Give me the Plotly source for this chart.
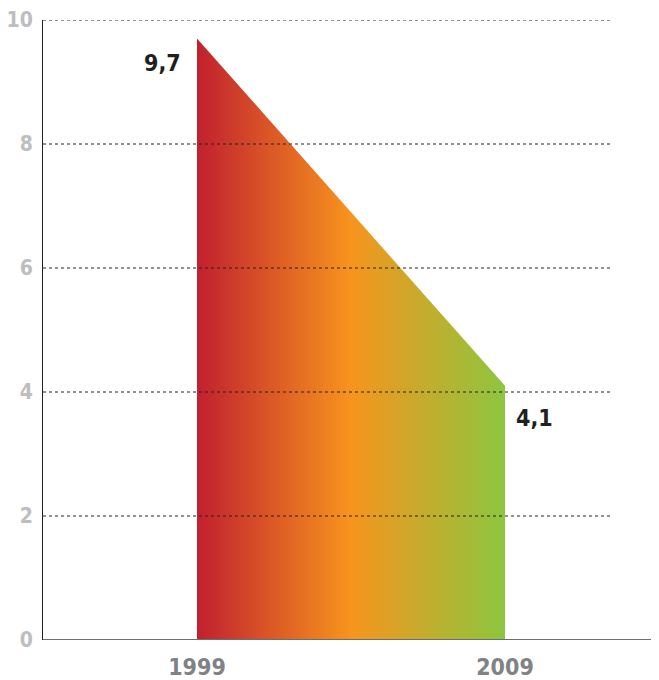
import plotly.graph_objects as go

years = [1999, 2009]
values = [9.7, 4.1]
labels = ["9,7", "4,1"]
y_ticks = [0, 2, 4, 6, 8, 10]
x_ticks = [1999, 2009]

FONT = "DejaVu Sans Condensed, Liberation Sans Narrow, sans-serif"

fig = go.Figure()
fig.add_trace(go.Scatter(
    x=years, y=values, mode="lines", line=dict(width=0, color="rgba(0,0,0,0)"),
    fill="tozeroy",
    fillgradient=dict(type="horizontal",
                      colorscale=[[0, "#C1202F"], [0.5, "#F7941D"], [1, "#8DC63F"]]),
    hoverinfo="skip", showlegend=False,
))

# gridlines (dotted) ending before right edge
for t in y_ticks[1:]:
    fig.add_shape(type="line", xref="x", yref="y", x0=1994, x1=2012.45, y0=t, y1=t,
                  line=dict(color="#222222", width=1, dash="dot"), layer="above")

# x axis baseline extending full width
fig.add_shape(type="line", xref="paper", yref="y", x0=0, x1=1, y0=0, y1=0,
              line=dict(color="#6D6E71", width=2), layer="above")

fig.add_annotation(x=years[0], y=values[0], text=labels[0], showarrow=False,
                   xanchor="right", yanchor="top", xshift=-14, yshift=-9,
                   font=dict(family=FONT, size=23, color="#231F20", weight="bold"))
fig.add_annotation(x=years[1], y=values[1], text=labels[1], showarrow=False,
                   xanchor="left", yanchor="top", xshift=9, yshift=-17,
                   font=dict(family=FONT, size=23, color="#231F20", weight="bold"))

# page body has an 8px margin, so the figure is sized and placed to compensate
fig.update_layout(
    width=651, height=672,
    margin=dict(l=35, r=0, t=12, b=40),
    plot_bgcolor="white", paper_bgcolor="white",
    xaxis=dict(range=[1994, 2014], tickvals=x_ticks, ticktext=[str(v) for v in x_ticks],
               showgrid=False, zeroline=False, showline=False, ticks="",
               ticklabelstandoff=11, automargin=False, ticklabeloverflow="allow",
               tickfont=dict(family=FONT, size=23, color="#808285", weight="bold")),
    yaxis=dict(range=[0, 10], tickvals=y_ticks, showgrid=False, zeroline=False,
               showline=True, linecolor="#231F20", linewidth=1, ticks="",
               ticklabelstandoff=5, automargin=False, ticklabeloverflow="allow",
               tickfont=dict(family=FONT, size=21, color="#BCBEC0", weight="bold")),
)

fig.write_html("out.html")
